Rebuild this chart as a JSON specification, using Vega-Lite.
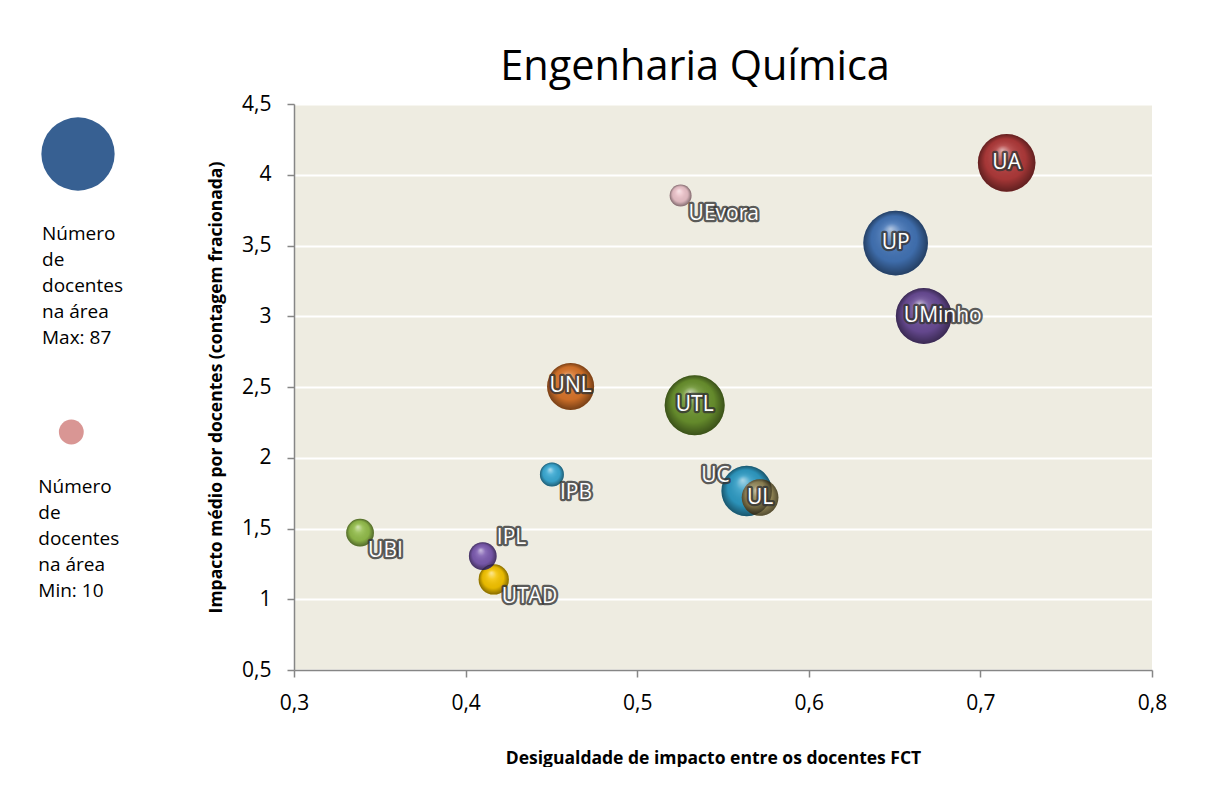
{
  "$schema": "https://vega.github.io/schema/vega-lite/v6.json",
  "autosize": {"type": "pad"},
  "padding": {"left": 0, "top": 46, "right": 0, "bottom": 0},
  "background": "white",
  "spacing": 94,
  "bounds": "flush",
  "config": {"font": "Open Sans", "view": {"stroke": null}},
  "resolve": {"scale": {"x": "independent", "y": "independent", "color": "independent", "size": "independent"}},
  "hconcat": [
    {
      "width": 200,
      "height": 566,
      "data": {"values": [
        {"n": 87, "label": "Número\nde\ndocentes\nna área\nMax: 87"},
        {"n": 10, "label": "Número\nde\ndocentes\nna área\nMin: 10"}
      ]},
      "encoding": {
        "x": {"field": "n", "type": "quantitative", "scale": {"domain": [-809.5, 1489], "nice": false, "zero": false}, "axis": null},
        "y": {"field": "n", "type": "quantitative", "scale": {"domain": [-55.92, 100.85], "nice": false, "zero": false}, "axis": null}
      },
      "layer": [
        {
          "mark": {"type": "point", "shape": "circle", "filled": true, "opacity": 1, "strokeWidth": 0},
          "encoding": {
            "size": {"field": "n", "type": "quantitative", "scale": {"domain": [0, 87], "range": [0, 5372], "zero": true}, "legend": null},
            "color": {"field": "n", "type": "nominal", "scale": {"domain": [87, 10], "range": ["#376092", "#d99694"]}, "legend": null}
          }
        },
        {
          "transform": [{"filter": "datum.n == 87"}],
          "mark": {"type": "text", "align": "left", "baseline": "alphabetic", "dx": -36, "dy": 86, "fontSize": 19, "lineHeight": 26, "lineBreak": "\n", "color": "black"},
          "encoding": {"text": {"field": "label", "type": "nominal"}}
        },
        {
          "transform": [{"filter": "datum.n == 10"}],
          "mark": {"type": "text", "align": "left", "baseline": "alphabetic", "dx": -33, "dy": 61, "fontSize": 19, "lineHeight": 26, "lineBreak": "\n", "color": "black"},
          "encoding": {"text": {"field": "label", "type": "nominal"}}
        }
      ]
    },
    {
      "width": 858,
      "height": 566,
      "view": {"fill": "#EEECE1", "stroke": null},
      "title": {"text": "Engenharia Química", "fontSize": 41.5, "font": "Open Sans", "fontWeight": "normal", "color": "black", "anchor": "middle", "frame": "group", "dx": -28, "offset": -28, "baseline": "alphabetic"},
      "data": {"values": [
        {"name": "UA", "x": 0.7153, "y": 4.084, "n": 69},
        {"name": "UP", "x": 0.6506, "y": 3.517, "n": 87},
        {"name": "UMinho", "x": 0.667, "y": 3.002, "n": 65},
        {"name": "UTL", "x": 0.5335, "y": 2.371, "n": 75},
        {"name": "UNL", "x": 0.4612, "y": 2.504, "n": 46},
        {"name": "UEvora", "x": 0.5253, "y": 3.853, "n": 10},
        {"name": "UC", "x": 0.5638, "y": 1.765, "n": 53},
        {"name": "UL", "x": 0.5716, "y": 1.719, "n": 28},
        {"name": "IPB", "x": 0.4503, "y": 1.881, "n": 12},
        {"name": "UBI", "x": 0.3385, "y": 1.47, "n": 16},
        {"name": "UTAD", "x": 0.4164, "y": 1.14, "n": 19},
        {"name": "IPL", "x": 0.41, "y": 1.305, "n": 16}
      ]},
      "encoding": {
        "x": {"field": "x", "type": "quantitative",
          "scale": {"domain": [0.3, 0.8], "nice": false, "zero": false},
          "axis": {"values": [0.3, 0.4, 0.5, 0.6, 0.7, 0.8], "labelExpr": "replace(format(datum.value, '.1f'), '.', ',')", "grid": false,
            "domainColor": "#868686", "domainWidth": 1.5, "tickColor": "#868686", "tickWidth": 1.5, "tickSize": 7,
            "labelFontSize": 21, "labelColor": "black", "labelPadding": 15, "labelFlush": false, "labelOverlap": false,
            "title": "Desigualdade de impacto entre os docentes FCT", "titleFontSize": 17.5, "titleFontWeight": "bold", "titleColor": "black", "titlePadding": 36, "titleX": 419}},
        "y": {"field": "y", "type": "quantitative",
          "scale": {"domain": [0.5, 4.5], "nice": false, "zero": false},
          "axis": {"values": [0.5, 1, 1.5, 2, 2.5, 3, 3.5, 4, 4.5], "labelExpr": "replace(format(datum.value, '.1~f'), '.', ',')", "grid": true, "gridColor": "white", "gridWidth": 2,
            "domainColor": "#868686", "domainWidth": 1.5, "tickColor": "#868686", "tickWidth": 1.5, "tickSize": 7,
            "labelFontSize": 21, "labelColor": "black", "labelPadding": 16, "labelFlush": false, "labelOverlap": false,
            "title": "Impacto  médio por docentes (contagem fracionada)", "titleFontSize": 17.5, "titleFontWeight": "bold", "titleColor": "black", "titlePadding": 16}}
      },
      "layer": [
        {
          "mark": {"type": "point", "shape": "circle", "filled": true, "opacity": 1, "strokeWidth": 0},
          "encoding": {
            "size": {"field": "n", "type": "quantitative", "scale": {"domain": [0, 87], "range": [0, 4185], "zero": true}, "legend": null},
            "color": {"field": "name", "type": "nominal",
              "scale": {"domain": ["UA", "UP", "UMinho", "UTL", "UNL", "UEvora", "UC", "UL", "IPB", "UBI", "UTAD", "IPL"],
                "range": ["#b03a3a", "#4273b5", "#6a4c96", "#6a922e", "#d8742a", "#ecc3ca", "#2e9bc4", "#978a58", "#3aaad4", "#93bd4b", "#f5c400", "#7c5bb0"]},
              "legend": null}
          }
        },
        {
          "mark": {"type": "point", "shape": "circle", "filled": true, "opacity": 1, "strokeWidth": 0,
            "fill": {"gradient": "radial", "x1": 0.42, "y1": 0.28, "r1": 0, "x2": 0.5, "y2": 0.5, "r2": 0.5,
              "stops": [
                {"offset": 0, "color": "rgba(255,255,255,0.6)"},
                {"offset": 0.3, "color": "rgba(255,255,255,0.12)"},
                {"offset": 0.7, "color": "rgba(0,0,0,0.06)"},
                {"offset": 1, "color": "rgba(0,0,0,0.45)"}
              ]}},
          "encoding": {
            "size": {"field": "n", "type": "quantitative", "scale": {"domain": [0, 87], "range": [0, 4185], "zero": true}, "legend": null}
          }
        },
        {
          "transform": [{"filter": {"field": "name", "oneOf": ["UA", "UP", "UTL", "UNL", "UL"]}}],
          "encoding": {"text": {"field": "name", "type": "nominal"}},
          "layer": [
            {"mark": {"type": "text", "align": "center", "baseline": "middle", "fontSize": 21, "color": "#333333", "stroke": "#333333", "strokeWidth": 4.5, "strokeOpacity": 0.8, "strokeJoin": "round"}},
            {"mark": {"type": "text", "align": "center", "baseline": "middle", "fontSize": 21, "color": "white"}}
          ]
        },
        {
          "transform": [{"filter": {"field": "name", "oneOf": ["UMinho"]}}],
          "encoding": {"text": {"field": "name", "type": "nominal"}},
          "layer": [
            {"mark": {"type": "text", "align": "center", "baseline": "middle", "dx": 19, "fontSize": 21, "color": "#333333", "stroke": "#333333", "strokeWidth": 4.5, "strokeOpacity": 0.8, "strokeJoin": "round"}},
            {"mark": {"type": "text", "align": "center", "baseline": "middle", "dx": 19, "fontSize": 21, "color": "white"}}
          ]
        },
        {
          "transform": [{"filter": {"field": "name", "oneOf": ["UEvora", "IPB", "UBI", "UTAD"]}}],
          "encoding": {"text": {"field": "name", "type": "nominal"}},
          "layer": [
            {"mark": {"type": "text", "align": "left", "baseline": "middle", "dx": 8, "dy": 18, "fontSize": 21, "color": "#333333", "stroke": "#333333", "strokeWidth": 4.5, "strokeOpacity": 0.8, "strokeJoin": "round"}},
            {"mark": {"type": "text", "align": "left", "baseline": "middle", "dx": 8, "dy": 18, "fontSize": 21, "color": "white"}}
          ]
        },
        {
          "transform": [{"filter": {"field": "name", "oneOf": ["IPL"]}}],
          "encoding": {"text": {"field": "name", "type": "nominal"}},
          "layer": [
            {"mark": {"type": "text", "align": "left", "baseline": "middle", "dx": 14, "dy": -18, "fontSize": 21, "color": "#333333", "stroke": "#333333", "strokeWidth": 4.5, "strokeOpacity": 0.8, "strokeJoin": "round"}},
            {"mark": {"type": "text", "align": "left", "baseline": "middle", "dx": 14, "dy": -18, "fontSize": 21, "color": "white"}}
          ]
        },
        {
          "transform": [{"filter": {"field": "name", "oneOf": ["UC"]}}],
          "encoding": {"text": {"field": "name", "type": "nominal"}},
          "layer": [
            {"mark": {"type": "text", "align": "right", "baseline": "middle", "dx": -17, "dy": -15, "fontSize": 21, "color": "#333333", "stroke": "#333333", "strokeWidth": 4.5, "strokeOpacity": 0.8, "strokeJoin": "round"}},
            {"mark": {"type": "text", "align": "right", "baseline": "middle", "dx": -17, "dy": -15, "fontSize": 21, "color": "white"}}
          ]
        }
      ]
    }
  ]
}
